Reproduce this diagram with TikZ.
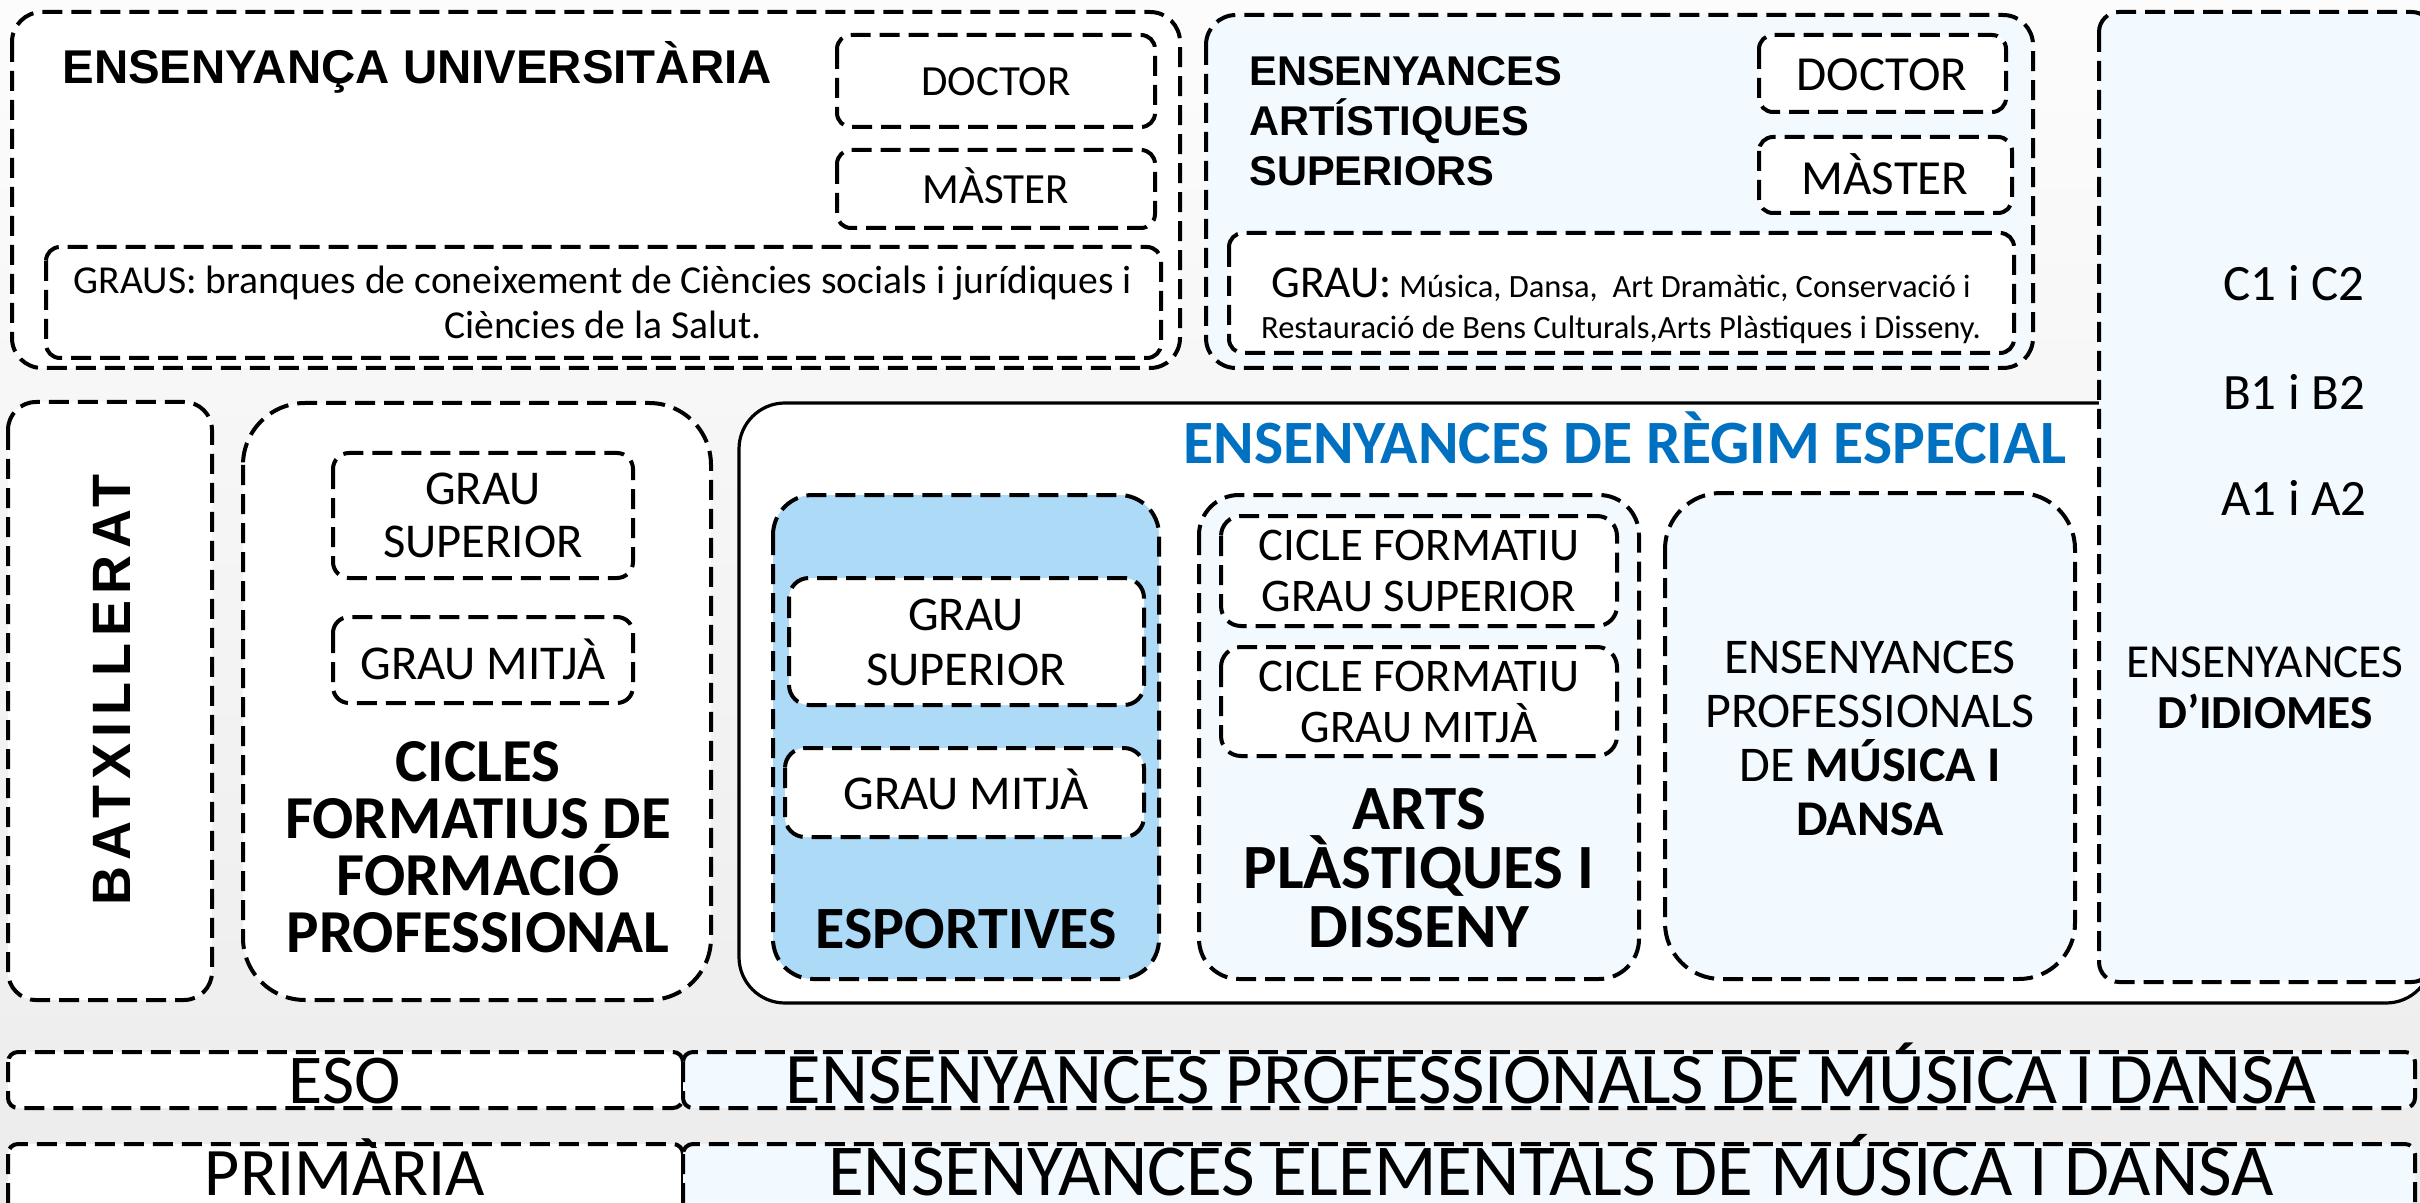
\documentclass[tikz,border=0pt]{standalone}
\usepackage{fontspec}
\setmainfont{Carlito}
\newfontfamily\headfont{Liberation Sans}
\newfontfamily\batxfont[LetterSpace=12]{Liberation Sans}
\definecolor{paleblue}{HTML}{F2FAFF}
\definecolor{sportblue}{HTML}{ADDAF7}
\definecolor{titleblue}{HTML}{0070C0}
\definecolor{bgtop}{HTML}{FCFCFC}
\definecolor{bgbottom}{HTML}{ECECEC}
\newcommand{\setfs}[2]{\fontsize{#1}{#2}\selectfont}
\tikzset{
  dashbox/.style={draw=black, line width=2pt, dash pattern=on 10pt off 4.5pt, fill=white},
  solidbox/.style={draw=black, line width=1.6pt, fill=white},
  lbl/.style={inner sep=0pt, align=center}
}
\begin{document}
\begin{tikzpicture}[x=0.5pt,y=-0.5pt]
  \useasboundingbox (0,0) rectangle (2420,1203);
  \shade[top color=bgtop,bottom color=bgbottom] (0,0) rectangle (2420,1203);
  \clip (0,0) rectangle (2420,1203);

  % ensenyanca universitaria
  \draw[dashbox,rounded corners=15pt] (12,12) rectangle (1180,368);
  \path (62,84) node[lbl,anchor=base west,font=\headfont\bfseries\setfs{23.7}{28}] (univ) {ENSENYANÇA UNIVERSITÀRIA};
  \draw[dashbox,rounded corners=7pt] (837,35) rectangle (1155,127);
  \path (996,96) node[lbl,anchor=base,font=\setfs{21.5}{26}] (udoc) {DOCTOR};
  \draw[dashbox,rounded corners=7pt] (837,150) rectangle (1155,228);
  \path (996,204) node[lbl,anchor=base,font=\setfs{21.5}{26}] (umas) {MÀSTER};
  \draw[dashbox,rounded corners=7pt] (46,247) rectangle (1161,358);
  \path (603,302) node[lbl,font=\setfs{19.8}{22.5}] (ugrau)
    {GRAUS: branques de coneixement de Ciències socials i jurídiques i\\Ciències de la Salut.};

  % ensenyances artistiques superiors
  \draw[dashbox,fill=paleblue,rounded corners=15pt] (1206,15) rectangle (2033,368);
  \path (1249,121) node[lbl,anchor=west,align=left,font=\headfont\bfseries\setfs{20.8}{25}] (art)
    {ENSENYANCES\\ARTÍSTIQUES\\SUPERIORS};
  \draw[dashbox,rounded corners=7pt] (1759,35) rectangle (2006,112);
  \path (1882,91) node[lbl,anchor=base,font=\setfs{24.5}{28}] (adoc) {DOCTOR};
  \draw[dashbox,rounded corners=7pt] (1759,137) rectangle (2012,213);
  \path (1885,195) node[lbl,anchor=base,font=\setfs{24.5}{28}] (amas) {MÀSTER};
  \draw[dashbox,rounded corners=7pt] (1229,233) rectangle (2014,353);
  \path (1621,306) node[lbl,font=\setfs{16.25}{20.5}] (agrau)
    {{\setfs{22.8}{20.5}GRAU:} Música, Dansa,\ \ Art Dramàtic, Conservació i\\Restauració de Bens Culturals,Arts Plàstiques i Disseny.};

  % batxillerat
  \draw[dashbox,rounded corners=14pt] (8,402) rectangle (212,1000);
  \path (112,690) node[lbl,rotate=90,font=\batxfont\bfseries\setfs{27}{30}] (batx) {BATXILLERAT};

  % cicles formatius
  \draw[dashbox,rounded corners=31pt] (243,403) rectangle (711,1000);
  \draw[dashbox,rounded corners=8pt] (333,453) rectangle (633,578);
  \path (483,515) node[lbl,font=\setfs{24.3}{26.5}] (csup) {GRAU\\SUPERIOR};
  \draw[dashbox,rounded corners=8pt] (333,617) rectangle (633,703);
  \path (483,679) node[lbl,anchor=base,font=\setfs{24.3}{26.5}] (cmit) {GRAU MITJÀ};
  \path (478,847) node[lbl,font=\bfseries\setfs{30.5}{28.5}] (cfp)
    {CICLES\\FORMATIUS DE\\FORMACIÓ\\PROFESSIONAL};

  % regim especial
  \draw[solidbox,rounded corners=23pt] (739,403) rectangle (2432,1003);
  \path (1625,464) node[lbl,anchor=base,text=titleblue,font=\bfseries\setfs{30.8}{32}] (esp)
    {ENSENYANCES DE RÈGIM ESPECIAL};

  \draw[dashbox,fill=sportblue,rounded corners=20pt] (773,495) rectangle (1159,979);
  \draw[dashbox,rounded corners=10pt] (789,578) rectangle (1144,705);
  \path (966,642) node[lbl,font=\setfs{24.3}{27.5}] (ssup) {GRAU\\SUPERIOR};
  \draw[dashbox,rounded corners=10pt] (785,748) rectangle (1144,837);
  \path (966,809) node[lbl,anchor=base,font=\setfs{24.3}{27.5}] (smit) {GRAU MITJÀ};
  \path (966,948) node[lbl,anchor=base,font=\bfseries\setfs{30}{32}] (sport) {ESPORTIVES};

  \draw[dashbox,fill=paleblue,rounded corners=20pt] (1199,495) rectangle (1639,979);
  \draw[dashbox,rounded corners=10pt] (1221,516) rectangle (1617,626);
  \path (1419,571) node[lbl,font=\setfs{23.4}{25.5}] (asup) {CICLE FORMATIU\\GRAU SUPERIOR};
  \draw[dashbox,rounded corners=10pt] (1221,647) rectangle (1617,756);
  \path (1419,702) node[lbl,font=\setfs{23.4}{25.5}] (amit) {CICLE FORMATIU\\GRAU MITJÀ};
  \path (1419,868) node[lbl,font=\bfseries\setfs{31.5}{29.5}] (apd) {ARTS\\PLÀSTIQUES I\\DISSENY};

  \draw[dashbox,fill=paleblue,rounded corners=28pt] (1665,493) rectangle (2075,979);
  \path (1870,738) node[lbl,font=\setfs{25}{27}] (mus)
    {ENSENYANCES\\PROFESSIONALS\\DE \textbf{MÚSICA I}\\\textbf{DANSA}};

  % idiomes
  \draw[dashbox,fill=paleblue,rounded corners=10pt] (2099,12) rectangle (2432,982);
  \path (2294,301) node[lbl,anchor=base,font=\setfs{25.5}{28}] (c12) {C1 i C2};
  \path (2294,410) node[lbl,anchor=base,font=\setfs{25.5}{28}] (b12) {B1 i B2};
  \path (2294,516) node[lbl,anchor=base,font=\setfs{25.5}{28}] (a12) {A1 i A2};
  \path (2265,688) node[lbl,font=\setfs{23.7}{25.5}] (idi) {ENSENYANCES\\\textbf{D’IDIOMES}};

  % obligatoria i elemental
  \draw[dashbox,rounded corners=5pt] (8,1052) rectangle (683,1108);
  \path (345,1103) node[lbl,anchor=base,font=\setfs{35}{38}] (eso) {ESO};
  \draw[dashbox,fill=paleblue,rounded corners=5pt] (683,1052) rectangle (2415,1108);
  \path (1551,1103) node[lbl,anchor=base,font=\setfs{36.3}{38}] (epro) {ENSENYANCES PROFESSIONALS DE MÚSICA I DANSA};
  \draw[dashbox,rounded corners=5pt] (8,1144) rectangle (683,1230);
  \path (345,1195) node[lbl,anchor=base,font=\setfs{34}{38}] (prim) {PRIMÀRIA};
  \draw[dashbox,fill=paleblue,rounded corners=5pt] (683,1144) rectangle (2415,1230);
  \path (1551,1195) node[lbl,anchor=base,font=\setfs{36.6}{38}] (eelem) {ENSENYANCES ELEMENTALS DE MÚSICA I DANSA};
\end{tikzpicture}
\end{document}
